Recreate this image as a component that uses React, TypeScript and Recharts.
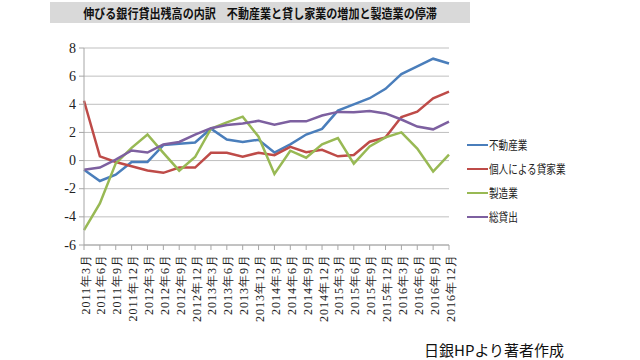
import React from 'react';
import { LineChart, Line, XAxis, YAxis, CartesianGrid } from 'recharts';

const categories = [
  '2011年3月', '2011年6月', '2011年9月', '2011年12月',
  '2012年3月', '2012年6月', '2012年9月', '2012年12月',
  '2013年3月', '2013年6月', '2013年9月', '2013年12月',
  '2014年3月', '2014年6月', '2014年9月', '2014年12月',
  '2015年3月', '2015年6月', '2015年9月', '2015年12月',
  '2016年3月', '2016年6月', '2016年9月', '2016年12月',
];

const realEstate = [-0.65, -1.45, -1.0, -0.1, -0.1, 1.1, 1.2, 1.28, 2.27, 1.5, 1.32, 1.48, 0.57, 1.15, 1.85, 2.25, 3.55, 4.0, 4.43, 5.1, 6.15, 6.7, 7.24, 6.9];
const rentalByIndividuals = [4.25, 0.3, -0.1, -0.4, -0.7, -0.87, -0.5, -0.5, 0.55, 0.55, 0.27, 0.56, 0.38, 0.98, 0.6, 0.76, 0.3, 0.4, 1.34, 1.65, 3.1, 3.47, 4.43, 4.9];
const manufacturing = [-4.95, -3.05, -0.2, 0.9, 1.85, 0.55, -0.72, 0.25, 2.27, 2.72, 3.12, 1.7, -0.95, 0.7, 0.2, 1.15, 1.6, -0.22, 1.0, 1.65, 2.0, 0.85, -0.78, 0.42];
const totalLending = [-0.65, -0.5, 0.07, 0.72, 0.57, 1.15, 1.32, 1.85, 2.3, 2.52, 2.64, 2.82, 2.55, 2.79, 2.79, 3.2, 3.46, 3.43, 3.52, 3.35, 2.92, 2.42, 2.22, 2.77];

const yTicks = [-6, -4, -2, 0, 2, 4, 6, 8];

const title = '伸びる銀行貸出残高の内訳　不動産業と貸し家業の増加と製造業の停滞';
const footer = '日銀HPより著者作成';

const series = [
  { key: 'realEstate', name: '不動産業', color: '#4A7EBB', values: realEstate },
  { key: 'rental', name: '個人による貸家業', color: '#BE4B48', values: rentalByIndividuals },
  { key: 'manufacturing', name: '製造業', color: '#98B954', values: manufacturing },
  { key: 'total', name: '総貸出', color: '#7D60A0', values: totalLending },
];

const data = categories.map((cat, i) => {
  const row: Record<string, string | number> = { cat };
  series.forEach((s) => {
    row[s.key] = s.values[i];
  });
  return row;
});

const SERIF = "'Liberation Serif', 'DejaVu Serif', serif";

const XTick = (props: any) => {
  const { x, y, payload } = props;
  return (
    <g transform={`translate(${x + 1.5},${y})`}>
      <text
        transform="rotate(-90)"
        x={0}
        y={0}
        textAnchor="end"
        dominantBaseline="central"
        style={{ fontFamily: SERIF, fontSize: 12, letterSpacing: 1 }}
        fill="#222"
      >
        {payload.value}
      </text>
    </g>
  );
};

const YTick = (props: any) => {
  const { x, y, payload } = props;
  return (
    <text
      x={x}
      y={y}
      textAnchor="end"
      dominantBaseline="central"
      style={{ fontFamily: SERIF, fontSize: 14 }}
      fill="#222"
    >
      {payload.value}
    </text>
  );
};

export default function App() {
  return (
    <div style={{ position: 'absolute', left: 0, top: 0, width: 640, height: 360, background: '#fff', overflow: 'hidden' }}>
      <div
        style={{
          position: 'absolute', left: 50, top: 2, width: 420, height: 21, background: '#D9D9D9',
          display: 'flex', alignItems: 'center', justifyContent: 'center',
        }}
      >
        <span
          style={{
            display: 'inline-block', fontFamily: "'Noto Sans CJK JP', sans-serif", fontWeight: 700,
            fontSize: 13, lineHeight: '13px', color: '#111', transform: 'scaleX(0.85)', whiteSpace: 'nowrap',
          }}
        >
          {title}
        </span>
      </div>
      <LineChart
        width={640}
        height={360}
        data={data}
        margin={{ top: 48, right: 191, bottom: 0, left: 0 }}
      >
        <CartesianGrid vertical={false} stroke="#BFBFBF" strokeWidth={1} />
        <XAxis
          dataKey="cat"
          interval={0}
          height={115}
          tickSize={5}
          tickMargin={4}
          stroke="#A6A6A6"
          tick={<XTick />}
        />
        <YAxis
          width={84}
          domain={[-6, 8]}
          ticks={yTicks}
          type="number"
          interval={0}
          tickSize={5}
          tickMargin={3}
          stroke="#A6A6A6"
          tick={<YTick />}
        />
        {series.map((s) => (
          <Line
            key={s.key}
            dataKey={s.key}
            name={s.name}
            type="linear"
            stroke={s.color}
            strokeWidth={2.5}
            dot={false}
            isAnimationActive={false}
          />
        ))}
      </LineChart>
      {series.map((s, i) => (
        <div
          key={s.key}
          style={{
            position: 'absolute', left: 467, top: 137 + i * 24, height: 16,
            display: 'flex', alignItems: 'center', whiteSpace: 'nowrap',
          }}
        >
          <span style={{ display: 'inline-block', width: 21, height: 2.5, background: s.color }} />
          <span
            style={{
              display: 'inline-block', marginLeft: 1, fontFamily: "'Noto Sans CJK JP', sans-serif",
              fontSize: 12, lineHeight: '16px', color: '#222', transform: 'scaleX(0.8)', transformOrigin: 'left center',
            }}
          >
            {s.name}
          </span>
        </div>
      ))}
      <div
        style={{
          position: 'absolute', left: 424, top: 342, fontFamily: "'Noto Sans CJK JP', sans-serif",
          fontSize: 15, lineHeight: '15px', color: '#111', whiteSpace: 'nowrap',
        }}
      >
        {footer}
      </div>
    </div>
  );
}
